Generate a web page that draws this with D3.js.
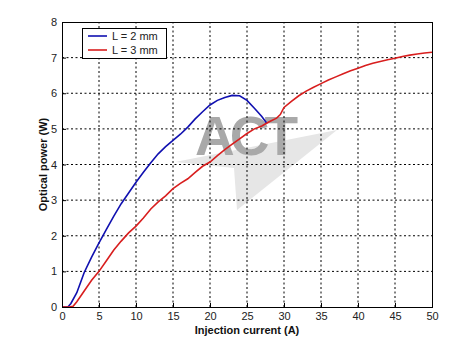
<!DOCTYPE html>
<html><head><meta charset="utf-8">
<script src="https://cdn.jsdelivr.net/npm/d3@7"></script>
<style>body{margin:0;background:#fff}svg{display:block}text{font-family:"Liberation Sans",Arial,sans-serif}</style>
</head><body><div id="c"></div>
<script>
const blueX = [0,0.8,1.2,2,3,4,5,6,7,8,9,10,11,12,13,14,15,16,17,18,19,20,21,22,23,24,25,26,27,27.7];
const blueY = [0,0,0.1,0.4,0.97,1.4,1.8,2.18,2.55,2.9,3.2,3.5,3.78,4.05,4.3,4.5,4.68,4.85,5.05,5.28,5.48,5.67,5.8,5.88,5.94,5.93,5.8,5.58,5.35,5.15];
const redX = [0,1,1.5,2,3,4,5,6,7,8,9,10,11,12,13,14,15,16,17,18,19,20,21,22,23,24,25,26,27,28,29,29.5,30,31,32,33,34,35,36,37,38,39,40,41,42,43,44,45,46,47,48,49,50];
const redY = [0,0,0.02,0.15,0.45,0.75,1.0,1.3,1.6,1.85,2.08,2.27,2.5,2.75,2.95,3.12,3.32,3.47,3.6,3.78,3.95,4.07,4.25,4.42,4.57,4.72,4.87,5.0,5.08,5.2,5.3,5.4,5.6,5.77,5.93,6.06,6.17,6.27,6.37,6.46,6.55,6.63,6.7,6.78,6.84,6.89,6.94,6.98,7.03,7.07,7.1,7.13,7.15];
const xTicks = [0,5,10,15,20,25,30,35,40,45,50];
const yTicks = [0,1,2,3,4,5,6,7,8];
const seriesNames = ["L = 2 mm","L = 3 mm"];
const seriesColors = ["#1010b0","#d81e1e"];
const xLabel = "Injection current (A)";
const yLabel = "Optical power (W)";

const W=475,H=343, m={l:62,t:22,r:43,b:36};
const svg=d3.select("#c").append("svg").attr("width",W).attr("height",H);
const x=d3.scaleLinear().domain([0,50]).range([m.l,W-m.r]);
const y=d3.scaleLinear().domain([0,8]).range([H-m.b,m.t]);

// watermark
svg.append("polygon").attr("points",[[175,162],[337,130],[237,210],[234,168]].map(p=>p.join(",")).join(" ")).attr("fill","#e6e6e6");
svg.append("text").attr("x",195).attr("y",155).attr("font-size",55).attr("font-weight","bold").attr("fill","#a9a9a9").attr("textLength",103).text("ACT");

// grid
const g=svg.append("g");
g.selectAll(".gx").data(xTicks.slice(1,-1)).join("line").attr("x1",d=>x(d)).attr("x2",d=>x(d)).attr("y1",y(0)).attr("y2",y(8)).attr("stroke","#000").attr("stroke-width",1).attr("stroke-dasharray","2,2.5");
g.selectAll(".gy").data(yTicks.slice(1,-1)).join("line").attr("y1",d=>y(d)).attr("y2",d=>y(d)).attr("x1",x(0)).attr("x2",x(50)).attr("stroke","#000").attr("stroke-width",1).attr("stroke-dasharray","2,2.5");

// axes
const ax=svg.append("g").attr("transform",`translate(0,${y(0)})`).call(d3.axisBottom(x).tickValues(xTicks).tickSizeInner(-4).tickSizeOuter(0).tickPadding(5.5));
const ay=svg.append("g").attr("transform",`translate(${x(0)},0)`).call(d3.axisLeft(y).tickValues(yTicks).tickSizeInner(-4).tickSizeOuter(0).tickPadding(5));
[ax,ay].forEach(a=>{a.select(".domain").remove();a.selectAll("text").attr("font-size",11).attr("fill","#222").attr("font-family","Liberation Sans, Arial");a.selectAll("line").attr("stroke","#000");});

// lines
const line=d3.line().x(d=>x(d[0])).y(d=>y(d[1]));
[[blueX,blueY],[redX,redY]].forEach((s,i)=>{
  svg.append("path").datum(d3.zip(s[0],s[1])).attr("d",line).attr("fill","none").attr("stroke",seriesColors[i]).attr("stroke-width",1.6);
});

// box
svg.append("rect").attr("x",x(0)+0.5).attr("y",y(8)+0.5).attr("width",x(50)-x(0)).attr("height",y(0)-y(8)).attr("fill","none").attr("stroke","#000").attr("stroke-width",1);

// legend
const lg=svg.append("g");
lg.append("rect").attr("x",82.5).attr("y",28.5).attr("width",84).attr("height",30).attr("fill","#fff").attr("stroke","#000");
seriesNames.forEach((n,i)=>{
  const yy=36+i*14;
  lg.append("line").attr("x1",88).attr("x2",107).attr("y1",yy).attr("y2",yy).attr("stroke",seriesColors[i]).attr("stroke-width",1.6);
  lg.append("text").attr("x",112).attr("y",yy+4).attr("font-size",11).attr("fill","#222").text(n);
});

// labels
svg.append("text").attr("x",(x(0)+x(50))/2).attr("y",334).attr("text-anchor","middle").attr("font-size",11).attr("font-weight","bold").attr("fill","#111").text(xLabel);
svg.append("text").attr("transform",`translate(47,${(y(0)+y(8))/2}) rotate(-90)`).attr("text-anchor","middle").attr("font-size",11).attr("font-weight","bold").attr("fill","#111").text(yLabel);
</script></body></html>
